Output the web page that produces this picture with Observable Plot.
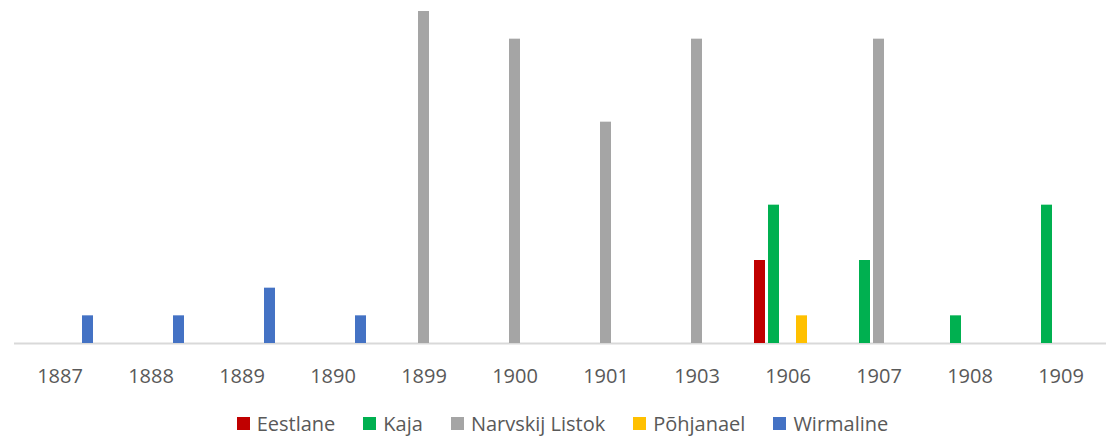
<!DOCTYPE html>
<html>
<head>
<meta charset="utf-8">
<script src="https://cdn.jsdelivr.net/npm/d3@7"></script>
<script src="https://cdn.jsdelivr.net/npm/@observablehq/plot@0.6"></script>
<style>
  html, body { margin: 0; padding: 0; background: #ffffff; }
  #chart { width: 1111px; }
  .legend { display: flex; justify-content: center; align-items: center; height: 37px;
    padding-left: 14px; box-sizing: border-box; width: 1111px;
    font-family: "Open Sans", sans-serif; font-size: 20px; color: #595959; }
  .legend .item { display: flex; align-items: center; margin: 0 14px; }
  .legend .sw { width: 13px; height: 13px; margin-right: 7px; display: inline-block; }
</style>
</head>
<body>
<div id="chart"></div>
<script>
const categories = ["1887","1888","1889","1890","1899","1900","1901","1903","1906","1907","1908","1909"];
const series = ["Eestlane","Kaja","Narvskij Listok","Põhjanael","Wirmaline"];
const colors = ["#C00000","#00B050","#A5A5A5","#FFC000","#4472C4"];
const eestlane  = [0,0,0,0,0,0,0,0,3,0,0,0];
const kaja      = [0,0,0,0,0,0,0,0,5,3,1,5];
const narvskij  = [0,0,0,0,12,11,8,11,0,11,0,0];
const pohjanael = [0,0,0,0,0,0,0,0,1,0,0,0];
const wirmaline = [1,1,2,1,0,0,0,0,0,0,0,0];

const seriesValues = [eestlane, kaja, narvskij, pohjanael, wirmaline];
const data = [];
categories.forEach((c, i) => {
  series.forEach((s, j) => {
    const v = seriesValues[j][i];
    if (v > 0) data.push({year: c, series: s, value: v});
  });
});

const chart = Plot.plot({
  width: 1111,
  height: 405,
  marginLeft: 8,
  marginRight: 0,
  marginTop: 11,
  marginBottom: 62,
  facet: {marginLeft: 8, marginRight: 0},
  style: {fontFamily: "Open Sans, sans-serif", fontSize: "20px", color: "#595959", background: "#ffffff", overflow: "visible"},
  fx: {domain: categories, paddingInner: 0, paddingOuter: 0, range: [8, 1111], axis: "bottom", tickSize: 0, tickPadding: 25, label: null},
  x: {domain: series, paddingInner: 0.24, paddingOuter: 0.79, axis: null},
  y: {domain: [0, 12], axis: null},
  color: {domain: series, range: colors},
  marks: [
    Plot.ruleY([0], {stroke: "#d9d9d9", strokeWidth: 2}),
    Plot.barY(data, {fx: "year", x: "series", y: "value", fill: "series"})
  ]
});
document.getElementById("chart").appendChild(chart);

const colorScale = chart.scale("color");
const legend = document.createElement("div");
legend.className = "legend";
colorScale.domain.forEach((s, i) => {
  const item = document.createElement("div");
  item.className = "item";
  const sw = document.createElement("span");
  sw.className = "sw";
  sw.style.background = colorScale.range[i];
  const label = document.createElement("span");
  label.textContent = s;
  item.appendChild(sw);
  item.appendChild(label);
  legend.appendChild(item);
});
document.body.appendChild(legend);
</script>
</body>
</html>
